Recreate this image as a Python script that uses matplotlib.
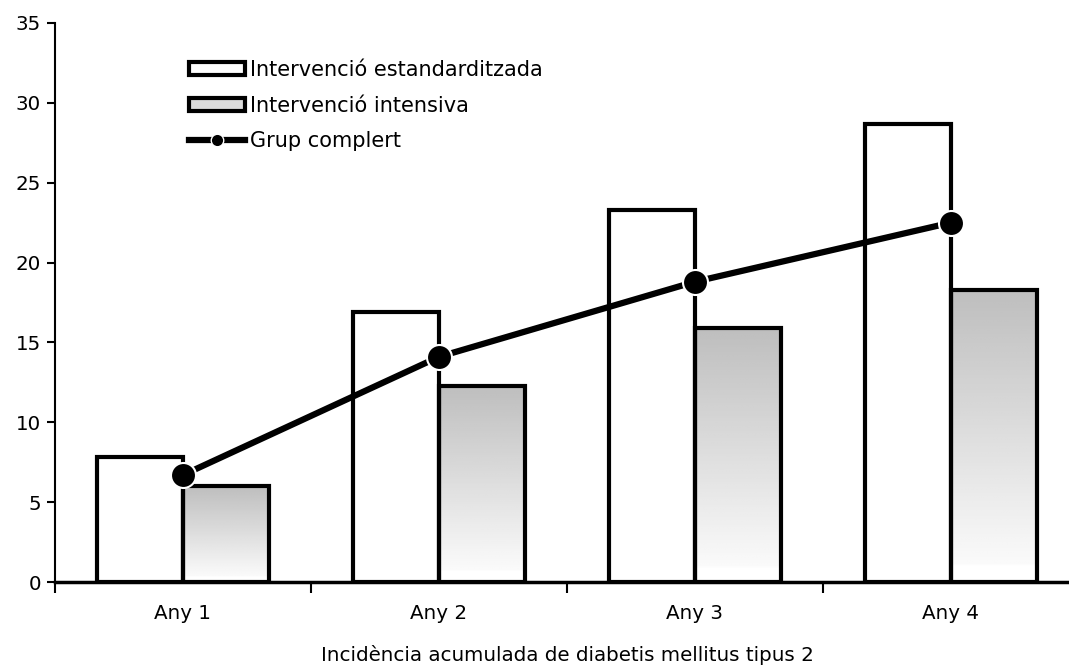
import numpy as np
import matplotlib
matplotlib.use("Agg")
import matplotlib.pyplot as plt
from matplotlib.patches import Rectangle
from matplotlib.lines import Line2D

plt.rcParams["font.family"] = ["DejaVu Sans"]

anys = ["Any 1", "Any 2", "Any 3", "Any 4"]
estandarditzada = [7.8, 16.9, 23.3, 28.7]
intensiva = [6.0, 12.3, 15.9, 18.3]
grup_complert = [6.7, 14.1, 18.8, 22.5]

FS = 14.3
W = 0.336
EDGE = 3.0

fig = plt.figure(figsize=(10.69, 6.67), dpi=100)
ax = fig.add_axes([55 / 1069, 85 / 667, 1024 / 1069, 559 / 667])

x = np.arange(len(anys))

# standard intervention: white bars
ax.bar(x - W / 2, estandarditzada, width=W, color="white", edgecolor="black",
       linewidth=EDGE, zorder=2)

# intensive intervention: grey-to-white vertical gradient inside each bar
grad = np.concatenate([np.linspace(0.745, 0.98, 94), np.full(6, 1.0)])[:, None]
for xi, v in zip(x, intensiva):
    ax.imshow(grad, extent=(xi, xi + W, 0, v), cmap="gray", vmin=0, vmax=1,
              aspect="auto", interpolation="bilinear", zorder=1.5)
ax.bar(x + W / 2, intensiva, width=W, color="none", edgecolor="black",
       linewidth=EDGE, zorder=2)

# whole group line
ax.plot(x, grup_complert, color="black", linewidth=4.5, marker="o",
        markersize=18, markerfacecolor="black", markeredgecolor="white",
        markeredgewidth=1.5, zorder=4, solid_capstyle="butt")

ax.set_xlim(-0.5, 3.5)
ax.set_ylim(0, 35)
ax.set_yticks(range(0, 36, 5))
ax.tick_params(axis="y", length=6, width=1.5, labelsize=FS, pad=4)

ax.set_xticks(np.arange(-0.5, 4.0, 1.0))
ax.set_xticklabels([])
ax.tick_params(axis="x", which="major", length=8, width=1.5)
ax.set_xticks(x, minor=True)
ax.set_xticklabels(anys, minor=True)
ax.tick_params(axis="x", which="minor", length=0, labelsize=FS, pad=16)
ax.set_xlabel("Incidència acumulada de diabetis mellitus tipus 2",
              fontsize=FS, labelpad=16)

for side in ("top", "right"):
    ax.spines[side].set_visible(False)
ax.spines["left"].set_linewidth(1.5)
ax.spines["bottom"].set_linewidth(2.5)

h_std = Rectangle((0, 0), 1, 1, facecolor="white", edgecolor="black", linewidth=EDGE)
h_int = Rectangle((0, 0), 1, 1, facecolor="#dcdcdc", edgecolor="black", linewidth=EDGE)
h_grp = Line2D([], [], color="black", linewidth=4.5, marker="o", markersize=9,
               markerfacecolor="black", markeredgecolor="white")
ax.legend([h_std, h_int, h_grp],
          ["Intervenció estandarditzada", "Intervenció intensiva", "Grup complert"],
          loc="upper left", bbox_to_anchor=(134 / 1024, 1 - 37 / 559),
          frameon=False, fontsize=FS + 0.7, handlelength=2.7, handleheight=0.6,
          handletextpad=0.25, labelspacing=0.75, borderaxespad=0, borderpad=0)

fig.savefig("out.png", dpi=100)
